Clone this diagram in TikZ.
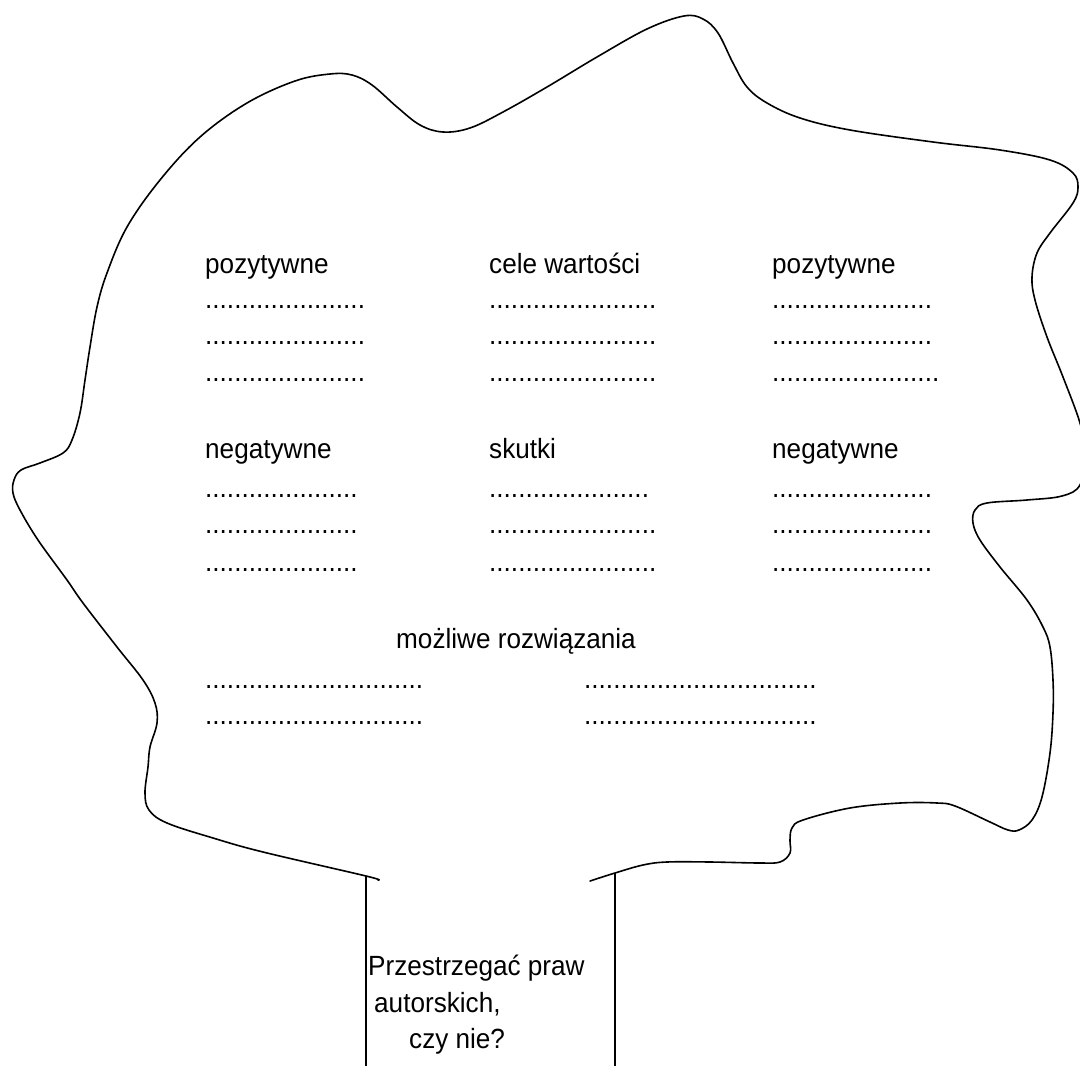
\documentclass[tikz,border=0pt]{standalone}
\usepackage{fontspec}
\setmainfont{Liberation Sans}[FakeStretch=0.94]
\newcommand\dotrow[1]{\foreach\i in {1,...,#1}{.}}
\begin{document}
\begin{tikzpicture}[x=1pt,y=-1pt,
  txt/.style={anchor=base west, inner sep=0pt, font=\fontsize{27.8}{32}\selectfont},
  crown/.style={line width=1.6pt, line join=round, line cap=round},
  trunk/.style={line width=1.5pt}]
\useasboundingbox (0,0) rectangle (1080,1066);
\begin{scope}
\clip (0,0) rectangle (1080,1066);
\draw[crown] plot[smooth, tension=0.6] coordinates {
(378,880) (366,876) (263,852) (213,838) (167,823) (149,810) (145,793) (148,767) (150,747) (157,723) (155,703) (143,680) (117,647) (83,603) (67,580) (38,540) (20,510) (13,493) (14,480) (21,470) (40,463) (63,453) (72,440) (80,413) (85,380) (90,347) (97,307) (107,273) (127,227) (160,180) (200,137) (247,103) (295,81) (330,74) (352,75) (372,85) (397,107) (420,125) (443,132) (470,128) (503,112) (547,87) (597,57) (647,29) (684,16) (703,19) (718,33) (733,63) (747,87) (767,103) (800,118) (850,130) (933,142) (1000,150) (1050,160) (1073,173) (1078,187) (1073,203) (1050,233) (1037,253) (1032,277) (1035,300) (1047,337) (1063,377) (1080,423) (1086,455) (1080,485) (1062,496) (1027,500) (987,503) (975,510) (973,523) (980,540) (1000,567) (1027,600) (1043,627) (1050,647) (1053,680) (1053,713) (1050,753) (1042,797) (1032,820) (1019,830) (1008,830) (990,822) (955,806) (937,803) (900,803) (850,808) (803,820) (792,828) (790,840) (790,853) (780,862) (760,863) (710,862) (667,862) (643,865) (615,873) (590,881)};
\end{scope}
% trunk
\coordinate (tla) at (366,876);
\coordinate (tlb) at (366,1066);
\coordinate (tra) at (615,873);
\coordinate (trb) at (615,1066);
\draw[trunk] (tla) -- (tlb);
\draw[trunk] (tra) -- (trb);
% first block
\node[txt] (h1) at (205,273) {pozytywne};
\node[txt] (h2) at (489,273) {cele wartości};
\node[txt] (h3) at (772,273) {pozytywne};
\node[txt] (a1) at (205,308) {\dotrow{22}};
\node[txt] (a2) at (205,344) {\dotrow{22}};
\node[txt] (a3) at (205,381) {\dotrow{22}};
\node[txt] (b1) at (489,308) {\dotrow{23}};
\node[txt] (b2) at (489,344) {\dotrow{23}};
\node[txt] (b3) at (489,381) {\dotrow{23}};
\node[txt] (c1) at (772,308) {\dotrow{22}};
\node[txt] (c2) at (772,344) {\dotrow{22}};
\node[txt] (c3) at (772,381) {\dotrow{23}};
% second block
\node[txt] (h4) at (205,458) {negatywne};
\node[txt] (h5) at (489,458) {skutki};
\node[txt] (h6) at (772,458) {negatywne};
\node[txt] (d1) at (205,497) {\dotrow{21}};
\node[txt] (d2) at (205,533) {\dotrow{21}};
\node[txt] (d3) at (205,571) {\dotrow{21}};
\node[txt] (e1) at (489,497) {\dotrow{22}};
\node[txt] (e2) at (489,533) {\dotrow{23}};
\node[txt] (e3) at (489,571) {\dotrow{23}};
\node[txt] (f1) at (772,497) {\dotrow{22}};
\node[txt] (f2) at (772,533) {\dotrow{22}};
\node[txt] (f3) at (772,571) {\dotrow{22}};
% solutions
\node[txt] (h7) at (396,648) {możliwe rozwiązania};
\node[txt] (g1) at (205,688) {\dotrow{30}};
\node[txt] (g2) at (205,724) {\dotrow{30}};
\node[txt] (g3) at (584,688) {\dotrow{32}};
\node[txt] (g4) at (584,724) {\dotrow{32}};
% trunk text
\node[txt] (q1) at (368,975) {Przestrzegać praw};
\node[txt] (q2) at (374,1012) {autorskich,};
\node[txt] (q3) at (409,1048) {czy nie?};
\end{tikzpicture}
\end{document}
